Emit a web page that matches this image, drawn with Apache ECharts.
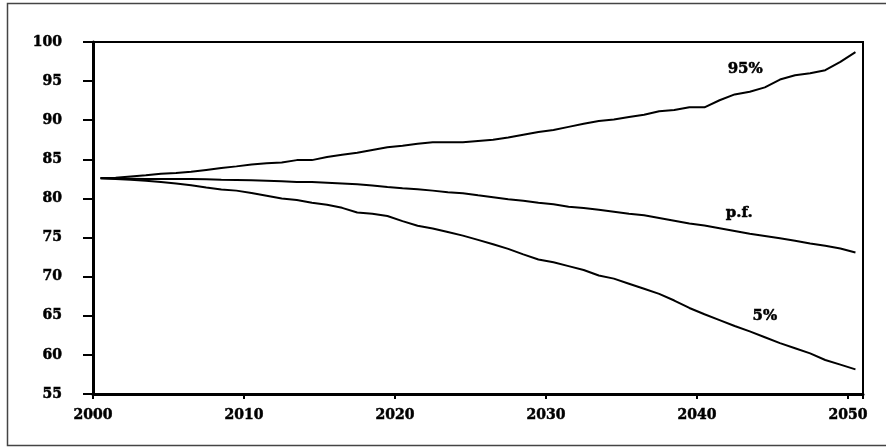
<!DOCTYPE html>
<html>
<head>
<meta charset="utf-8">
<script src="https://cdn.jsdelivr.net/npm/echarts@6/dist/echarts.min.js"></script>
<style>html,body{margin:0;padding:0;background:#fff}#c{width:886px;height:447px}</style>
</head>
<body>
<div id="c"></div>
<script>
// years are plotted at mid-year positions 2000.5 ... 2050.5
const years = [2000.5,2001.5,2002.5,2003.5,2004.5,2005.5,2006.5,2007.5,2008.5,2009.5,
  2010.5,2011.5,2012.5,2013.5,2014.5,2015.5,2016.5,2017.5,2018.5,2019.5,
  2020.5,2021.5,2022.5,2023.5,2024.5,2025.5,2026.5,2027.5,2028.5,2029.5,
  2030.5,2031.5,2032.5,2033.5,2034.5,2035.5,2036.5,2037.5,2038.5,2039.5,
  2040.5,2041.5,2042.5,2043.5,2044.5,2045.5,2046.5,2047.5,2048.5,2049.5,2050.5];
const upper95 = [82.6,82.65,82.8,82.95,83.15,83.25,83.4,83.65,83.9,84.1,
  84.35,84.5,84.6,84.9,84.9,85.3,85.6,85.85,86.2,86.55,
  86.75,87.0,87.18,87.18,87.18,87.35,87.5,87.8,88.15,88.5,
  88.75,89.15,89.55,89.9,90.1,90.4,90.7,91.15,91.3,91.65,
  91.65,92.55,93.3,93.65,94.2,95.2,95.75,96.0,96.4,97.45,98.7];
const pointForecast = [82.57,82.55,82.53,82.5,82.5,82.5,82.5,82.45,82.4,82.37,
  82.32,82.27,82.2,82.1,82.1,82.0,81.9,81.8,81.65,81.45,
  81.3,81.17,81.0,80.8,80.66,80.4,80.15,79.9,79.7,79.45,
  79.25,78.95,78.78,78.55,78.3,78.05,77.85,77.5,77.15,76.8,
  76.55,76.2,75.85,75.5,75.2,74.9,74.6,74.25,73.95,73.6,73.1];
const lower5 = [82.57,82.5,82.4,82.25,82.1,81.9,81.7,81.4,81.15,81.0,
  80.7,80.35,80.0,79.8,79.45,79.2,78.8,78.2,78.05,77.75,
  77.1,76.5,76.15,75.7,75.25,74.7,74.15,73.55,72.85,72.2,
  71.85,71.35,70.85,70.15,69.75,69.1,68.45,67.8,66.95,66.0,
  65.2,64.45,63.7,63.0,62.25,61.5,60.85,60.2,59.35,58.75,58.15];
const seriesNames = ['95%','p.f.','5%'];
// label anchor positions in data coordinates [year, value]
const labelPos = [[2043.2,96.55],[2042.8,78.15],[2044.5,64.95]];

const font = 'DejaVu Serif';
const zip = (xs, ys) => xs.map((x,i)=>[x, ys[i]]);
const chart = echarts.init(document.getElementById('c'), null, {renderer:'canvas'});
const lineStyle = {color:'#000', width:2};
const mkSeries = (name, vals) => ({
  name, type:'line', data: zip(years, vals), showSymbol:false, symbol:'none',
  lineStyle, silent:true, animation:false
});
const labelStyle = {color:'#000', fontFamily:font, fontWeight:'bold', fontSize:14,
  textBorderColor:'#000', textBorderWidth:0.5};
chart.setOption({
  animation:false,
  backgroundColor:'#fff',
  grid:{left:93, right:23, top:42, bottom:53, show:true, borderColor:'#000', borderWidth:2, backgroundColor:'transparent'},
  xAxis:{
    type:'value', min:2000, max:2051, interval:10,
    axisLine:{show:true, lineStyle:{color:'#000', width:3}},
    axisTick:{show:true, length:5, lineStyle:{color:'#000', width:2}},
    splitLine:{show:false},
    axisLabel:Object.assign({margin:14, formatter: v => (v % 10 === 0 ? String(v) : '')}, labelStyle)
  },
  yAxis:{
    type:'value', min:55, max:100, interval:5,
    axisLine:{show:true, lineStyle:{color:'#000', width:3}},
    axisTick:{show:true, length:10, lineStyle:{color:'#000', width:2}},
    splitLine:{show:false},
    axisLabel:Object.assign({margin:31}, labelStyle)
  },
  series:[mkSeries(seriesNames[0], upper95), mkSeries(seriesNames[1], pointForecast), mkSeries(seriesNames[2], lower5)]
});
const texts = seriesNames.map((n,i)=>{
  const p = chart.convertToPixel({gridIndex:0}, labelPos[i]);
  return {type:'text', x:p[0], y:p[1], style:{text:n, fill:'#000', font:'bold 15px "'+font+'"', align:'center', verticalAlign:'middle', stroke:'#000', lineWidth:0.5}};
});
chart.setOption({graphic:[
  {type:'rect', shape:{x:7.5, y:3.5, width:885, height:442}, style:{fill:'none', stroke:'#444', lineWidth:1.5}, silent:true},
  ...texts
]});
</script>
</body>
</html>
